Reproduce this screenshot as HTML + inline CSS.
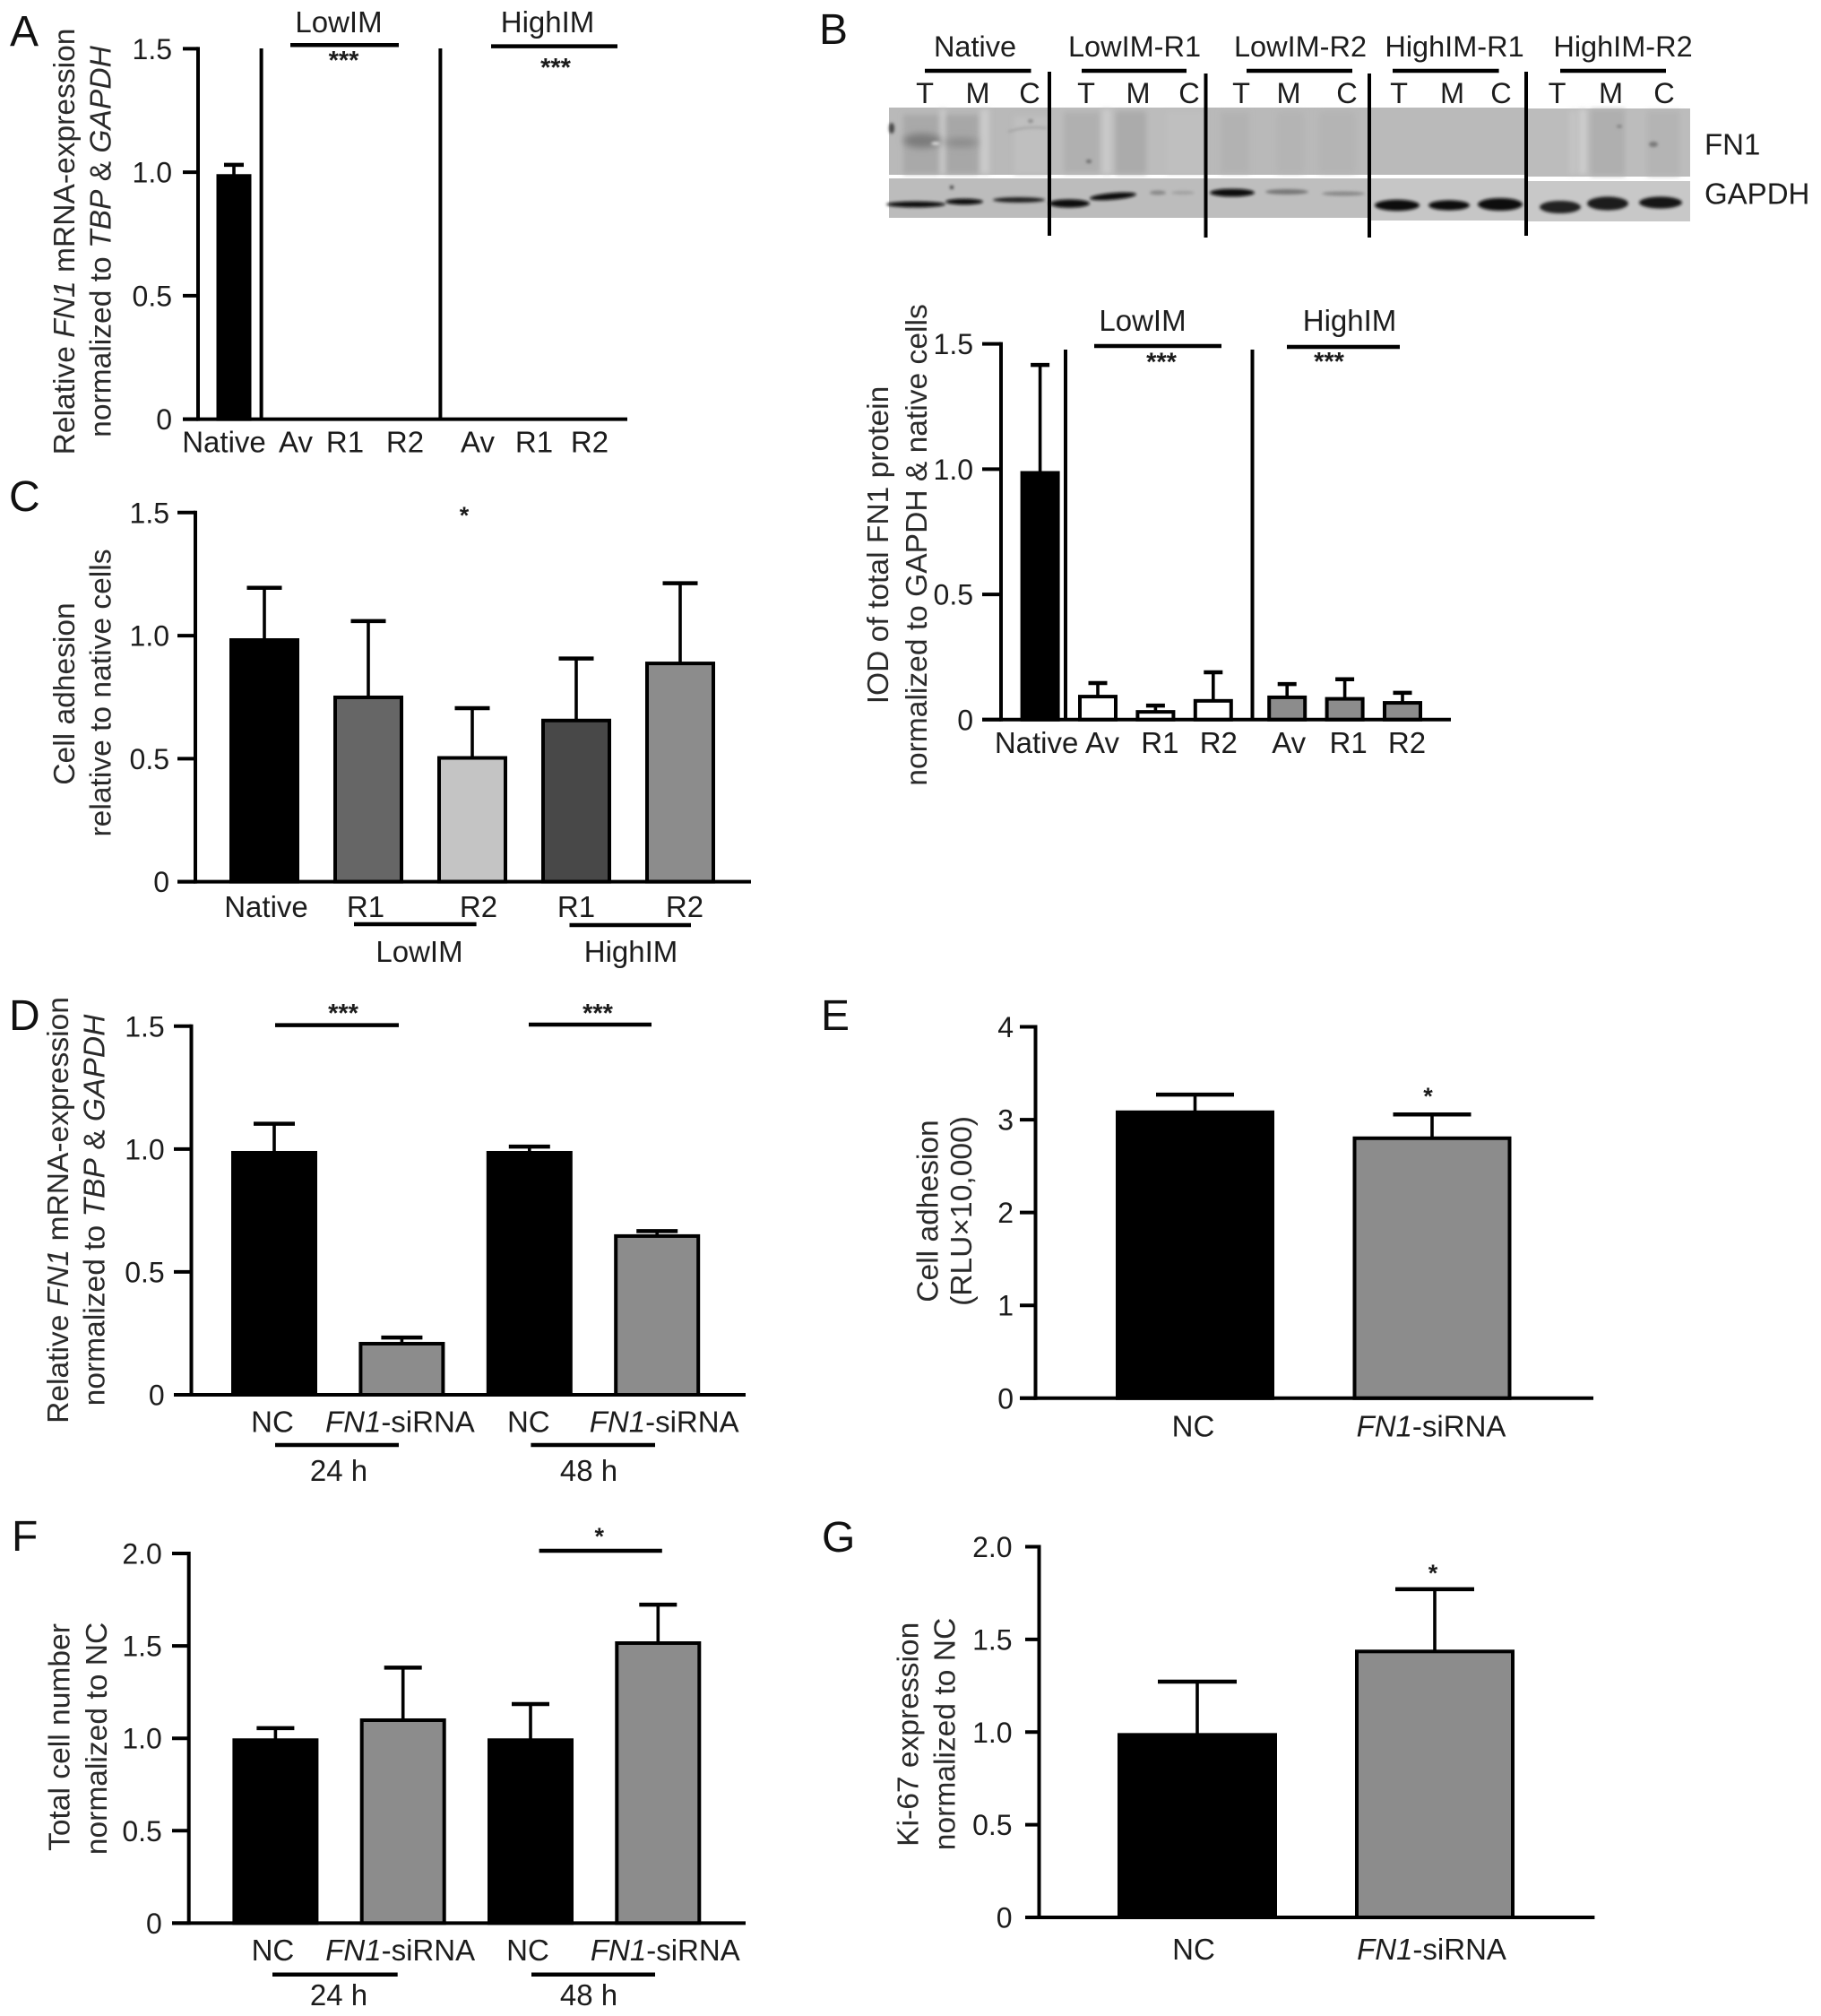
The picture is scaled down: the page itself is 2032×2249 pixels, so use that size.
<!DOCTYPE html>
<html lang="en">
<head>
<meta charset="utf-8">
<title>FN1 expression and cell adhesion panels</title>
<style>
html,body{margin:0;padding:0;background:#fff;}
svg{display:block;font-family:"Liberation Sans",Arial,sans-serif;}
text{fill:#1c1c1c;}
.letter{font-size:48px;fill:#111;}
.title{font-size:33.6px;text-anchor:middle;fill:#2a2a2a;}
.lab{font-size:33px;text-anchor:middle;}
.lab-b{font-size:32.5px;text-anchor:middle;}
.star{font-size:29px;text-anchor:middle;font-weight:bold;}
.star1{font-size:27px;text-anchor:middle;font-weight:bold;}
.line{stroke:#000;stroke-width:4.5;fill:none;}
.div{stroke:#000;stroke-width:4;fill:none;}
i,.it{font-style:italic;}
</style>
</head>
<body>
<svg id="figure" xmlns="http://www.w3.org/2000/svg" width="2032" height="2249" viewBox="0 0 2032 2249">
<defs>
<filter id="b1" x="-30%" y="-150%" width="160%" height="400%"><feGaussianBlur stdDeviation="1.7"/></filter>
<filter id="b2" x="-30%" y="-60%" width="160%" height="220%"><feGaussianBlur stdDeviation="4"/></filter>
<filter id="b3" x="-20%" y="-20%" width="140%" height="140%"><feGaussianBlur stdDeviation="3"/></filter>
</defs>
<rect width="2032" height="2249" fill="#fff"/>

<!-- Panel letters -->
<text class="letter" x="11" y="51">A</text>
<text class="letter" x="914" y="49">B</text>
<text class="letter" x="10" y="570">C</text>
<text class="letter" x="10" y="1149">D</text>
<text class="letter" x="916" y="1149">E</text>
<text class="letter" x="13" y="1730">F</text>
<text class="letter" x="917" y="1731">G</text>

<!-- Western blot image of panel B -->
<g>
  <g>
    <rect x="992" y="120" width="179" height="75" fill="#b9b9b9"/>
    <rect x="1171" y="120" width="175" height="75" fill="#bcbcbc"/>
    <rect x="1346" y="120" width="182" height="75" fill="#b9b9b9"/>
    <rect x="1528" y="120" width="175" height="75" fill="#bababa"/>
    <rect x="1703" y="121" width="183" height="76" fill="#bcbcbc"/>
    <g filter="url(#b3)">
      <rect x="1008" y="128" width="40" height="66" fill="#a9a9a9"/>
      <rect x="1054" y="128" width="38" height="66" fill="#a7a7a7"/>
      <rect x="1049" y="122" width="6" height="72" fill="#c9c9c9"/>
      <rect x="1094" y="122" width="10" height="72" fill="#cacaca"/>
      <rect x="1132" y="130" width="38" height="64" fill="#bfbfbf"/>
      <rect x="1187" y="125" width="40" height="68" fill="#b0b0b0"/>
      <rect x="1230" y="122" width="10" height="72" fill="#c9c9c9"/>
      <rect x="1245" y="124" width="34" height="70" fill="#ababab"/>
      <rect x="1302" y="125" width="42" height="68" fill="#bfbfbf"/>
      <rect x="1362" y="125" width="32" height="68" fill="#b2b2b2"/>
      <rect x="1425" y="125" width="30" height="68" fill="#b4b4b4"/>
      <rect x="1472" y="125" width="40" height="68" fill="#b4b4b4"/>
      <rect x="1752" y="124" width="6" height="70" fill="#c6c6c6"/>
      <rect x="1762" y="122" width="8" height="72" fill="#cdcdcd"/>
      <rect x="1775" y="122" width="38" height="74" fill="#afafaf"/>
      <rect x="1838" y="124" width="36" height="72" fill="#b4b4b4"/>
    </g>
    <g filter="url(#b2)">
      <ellipse cx="1029" cy="157" rx="21" ry="8" fill="#7b7b7b"/>
      <ellipse cx="1073" cy="159" rx="19" ry="5" fill="#8b8b8b"/>
    </g>
    <g filter="url(#b1)">
      <ellipse cx="995" cy="143" rx="3" ry="6" fill="#444"/>
      <ellipse cx="1044" cy="160" rx="5" ry="1.5" fill="#ececec"/>
      <ellipse cx="1150" cy="135" rx="3" ry="2" fill="#888"/>
      <ellipse cx="1215" cy="180" rx="3" ry="2" fill="#666"/>
      <ellipse cx="1845" cy="161" rx="5" ry="3" fill="#777"/>
      <ellipse cx="1807" cy="141" rx="3" ry="1.5" fill="#777"/>
      <path d="M1125 147 Q1145 140 1168 143" stroke="#a0a0a0" stroke-width="2" fill="none"/>
    </g>
  </g>
  <g>
    <rect x="992" y="199" width="179" height="44" fill="#bcbcbc"/>
    <rect x="1171" y="199" width="175" height="44" fill="#bcbcbc"/>
    <rect x="1346" y="199" width="182" height="44" fill="#bebebe"/>
    <rect x="1528" y="199" width="175" height="47" fill="#c6c6c6"/>
    <rect x="1703" y="202" width="183" height="45" fill="#c8c8c8"/>
    <g filter="url(#b1)" fill="#0c0c0c">
      <ellipse cx="1022" cy="228" rx="33" ry="3.4" />
      <ellipse cx="1076" cy="225" rx="21" ry="3.4"/>
      <ellipse cx="1137" cy="223" rx="29" ry="3" fill="#222"/>
      <ellipse cx="1193" cy="227" rx="23" ry="4.6"/>
      <ellipse cx="1242" cy="219" rx="26" ry="3.8" transform="rotate(-5 1242 219)"/>
      <ellipse cx="1292" cy="215" rx="9" ry="2.5" fill="#888"/>
      <ellipse cx="1320" cy="215" rx="13" ry="2" fill="#a0a0a0"/>
      <ellipse cx="1375" cy="215" rx="25" ry="4.4"/>
      <ellipse cx="1436" cy="214" rx="24" ry="3" fill="#777"/>
      <ellipse cx="1499" cy="216" rx="24" ry="2.4" fill="#888"/>
      <ellipse cx="1559" cy="229" rx="25" ry="6.2"/>
      <ellipse cx="1617" cy="229" rx="23" ry="5.6"/>
      <ellipse cx="1674" cy="228" rx="25" ry="7"/>
      <ellipse cx="1741" cy="231" rx="23" ry="7" fill="#222"/>
      <ellipse cx="1794" cy="227" rx="23" ry="7.6" fill="#1a1a1a"/>
      <ellipse cx="1853" cy="226" rx="24" ry="6.6" fill="#161616"/>
      <ellipse cx="1062" cy="209" rx="2" ry="2" fill="#333"/>
    </g>
  </g>
  <line class="div" x1="1171" y1="80" x2="1171" y2="263"/>
  <line class="div" x1="1345.5" y1="82" x2="1345.5" y2="265"/>
  <line class="div" x1="1528" y1="82" x2="1528" y2="265"/>
  <line class="div" x1="1703" y1="80" x2="1703" y2="263"/>
  <g>
    <text class="lab-b" x="1088" y="63">Native</text>
    <text class="lab-b" x="1266" y="63">LowIM-R1</text>
    <text class="lab-b" x="1451" y="63">LowIM-R2</text>
    <text class="lab-b" x="1623" y="63">HighIM-R1</text>
    <text class="lab-b" x="1811" y="63">HighIM-R2</text>
  </g>
  <g>
    <line class="line" x1="1032" y1="79" x2="1150.5" y2="79"/>
    <line class="line" x1="1207" y1="79" x2="1324" y2="79"/>
    <line class="line" x1="1391" y1="79" x2="1509" y2="79"/>
    <line class="line" x1="1554" y1="79" x2="1672.6" y2="79"/>
    <line class="line" x1="1741" y1="79" x2="1859" y2="79"/>
  </g>
  <g>
    <text class="lab-b" x="1032" y="115">T</text><text class="lab-b" x="1091" y="115">M</text><text class="lab-b" x="1149" y="115">C</text>
    <text class="lab-b" x="1212" y="115">T</text><text class="lab-b" x="1270" y="115">M</text><text class="lab-b" x="1327" y="115">C</text>
    <text class="lab-b" x="1385" y="115">T</text><text class="lab-b" x="1438" y="115">M</text><text class="lab-b" x="1503" y="115">C</text>
    <text class="lab-b" x="1561" y="115">T</text><text class="lab-b" x="1620.6" y="115">M</text><text class="lab-b" x="1675" y="115">C</text>
    <text class="lab-b" x="1737.5" y="115">T</text><text class="lab-b" x="1797.5" y="115">M</text><text class="lab-b" x="1857" y="115">C</text>
  </g>
  <text class="lab-b" style="text-anchor:start;font-size:33px" x="1902" y="172.7">FN1</text>
  <text class="lab-b" style="text-anchor:start;font-size:33px" x="1902" y="227.7">GAPDH</text>
</g>

<!-- Chart panels: axes and bars filled in by script; annotations are static -->
<g id="panel-a">
  <g>
    <text class="title" transform="translate(83,269.5) rotate(-90)">Relative <tspan class="it">FN1</tspan> mRNA-expression</text>
    <text class="title" transform="translate(123.4,269.5) rotate(-90)">normalized to <tspan class="it">TBP</tspan> &amp; <tspan class="it">GAPDH</tspan></text>
  </g>
  <line class="div" x1="291.6" y1="54" x2="291.6" y2="467"/>
  <line class="div" x1="491.4" y1="54" x2="491.4" y2="467"/>
  <text class="lab" x="378" y="36">LowIM</text>
  <text class="lab" x="611" y="36">HighIM</text>
  <line class="line" x1="324" y1="50.3" x2="445" y2="50.3"/>
  <line class="line" x1="548" y1="51.6" x2="689" y2="51.6"/>
  <text class="star" x="383.5" y="77">***</text>
  <text class="star" x="620" y="85">***</text>
</g>

<g id="panel-b">
  <g>
    <text class="title" transform="translate(991,608) rotate(-90)">IOD of total FN1 protein</text>
    <text class="title" transform="translate(1034,608) rotate(-90)">normalized to GAPDH &amp; native cells</text>
  </g>
  <line class="div" x1="1189" y1="390" x2="1189" y2="802"/>
  <line class="div" x1="1397.5" y1="390" x2="1397.5" y2="802"/>
  <text class="lab" x="1275" y="369">LowIM</text>
  <text class="lab" x="1506" y="369">HighIM</text>
  <line class="line" x1="1221" y1="386" x2="1363" y2="386"/>
  <line class="line" x1="1436" y1="387" x2="1562" y2="387"/>
  <text class="star" x="1296" y="413.6">***</text>
  <text class="star" x="1483" y="413">***</text>
</g>

<g id="panel-c">
  <g>
    <text class="title" transform="translate(83,774) rotate(-90)">Cell adhesion</text>
    <text class="title" transform="translate(123.4,773) rotate(-90)">relative to native cells</text>
  </g>
  <text class="star1" x="518" y="584">*</text>
  <line class="line" x1="395" y1="1031" x2="531.6" y2="1031"/>
  <line class="line" x1="635.5" y1="1032" x2="771" y2="1032"/>
  <text class="lab" x="468" y="1073">LowIM</text>
  <text class="lab" x="704" y="1073">HighIM</text>
</g>

<g id="panel-d">
  <g>
    <text class="title" transform="translate(75.8,1350) rotate(-90)">Relative <tspan class="it">FN1</tspan> mRNA-expression</text>
    <text class="title" transform="translate(116.5,1350) rotate(-90)">normalized to <tspan class="it">TBP</tspan> &amp; <tspan class="it">GAPDH</tspan></text>
  </g>
  <line class="line" x1="307" y1="1143.6" x2="445" y2="1143.6"/>
  <line class="line" x1="590" y1="1143" x2="727" y2="1143"/>
  <text class="star" x="383" y="1140">***</text>
  <text class="star" x="667" y="1140">***</text>
  <line class="line" x1="307" y1="1612" x2="445" y2="1612"/>
  <line class="line" x1="592.4" y1="1612" x2="731" y2="1612"/>
  <text class="lab" x="378" y="1652">24 h</text>
  <text class="lab" x="657" y="1652">48 h</text>
</g>

<g id="panel-e">
  <g>
    <text class="title" transform="translate(1046.4,1351) rotate(-90)">Cell adhesion</text>
    <text class="title" transform="translate(1084,1351) rotate(-90)">(RLU×10,000)</text>
  </g>
  <text class="star1" x="1593.5" y="1232">*</text>
</g>

<g id="panel-f">
  <g>
    <text class="title" transform="translate(77.5,1938) rotate(-90)">Total cell number</text>
    <text class="title" transform="translate(118.8,1939.5) rotate(-90)">normalized to NC</text>
  </g>
  <line class="line" x1="601.6" y1="1730" x2="738.8" y2="1730"/>
  <text class="star1" x="668.8" y="1723">*</text>
  <line class="line" x1="304" y1="2202.7" x2="443.7" y2="2202.7"/>
  <line class="line" x1="593" y1="2202.7" x2="731" y2="2202.7"/>
  <text class="lab" x="378" y="2236.8">24 h</text>
  <text class="lab" x="657" y="2236.8">48 h</text>
</g>

<g id="panel-g">
  <g>
    <text class="title" transform="translate(1024.6,1934.8) rotate(-90)">Ki-67 expression</text>
    <text class="title" transform="translate(1065.3,1934.5) rotate(-90)">normalized to NC</text>
  </g>
  <text class="star1" x="1599" y="1764">*</text>
</g>
</svg>

<script>
// ---- Chart data ----
const panelACategories = ['Native', 'Av', 'R1', 'R2', 'Av', 'R1', 'R2'];
const panelAValues = [0.985, 0, 0, 0, 0, 0, 0];
const panelAErrorTops = [1.03, 0, 0, 0, 0, 0, 0];
const panelAFills = ['#000', '#fff', '#fff', '#fff', '#8c8c8c', '#8c8c8c', '#8c8c8c'];
const panelATicks = ['0', '0.5', '1.0', '1.5'];

const panelBCategories = ['Native', 'Av', 'R1', 'R2', 'Av', 'R1', 'R2'];
const panelBValues = [0.985, 0.092, 0.031, 0.075, 0.089, 0.083, 0.067];
const panelBErrorTops = [1.416, 0.146, 0.056, 0.189, 0.142, 0.161, 0.107];
const panelBFills = ['#000', '#fff', '#fff', '#fff', '#8c8c8c', '#8c8c8c', '#8c8c8c'];
const panelBTicks = ['0', '0.5', '1.0', '1.5'];

const panelCCategories = ['Native', 'R1', 'R2', 'R1', 'R2'];
const panelCValues = [0.982, 0.749, 0.503, 0.655, 0.887];
const panelCErrorTops = [1.194, 1.059, 0.705, 0.907, 1.213];
const panelCFills = ['#000', '#666', '#c4c4c4', '#484848', '#8c8c8c'];
const panelCTicks = ['0', '0.5', '1.0', '1.5'];

const panelDCategories = ['NC', 'FN1|-siRNA', 'NC', 'FN1|-siRNA'];
const panelDValues = [0.985, 0.208, 0.985, 0.646];
const panelDErrorTops = [1.103, 0.233, 1.01, 0.666];
const panelDFills = ['#000', '#8c8c8c', '#000', '#8c8c8c'];
const panelDTicks = ['0', '0.5', '1.0', '1.5'];

const panelECategories = ['NC', 'FN1|-siRNA'];
const panelEValues = [3.08, 2.80];
const panelEErrorTops = [3.27, 3.056];
const panelEFills = ['#000', '#8c8c8c'];
const panelETicks = ['0', '1', '2', '3', '4'];

const panelFCategories = ['NC', 'FN1|-siRNA', 'NC', 'FN1|-siRNA'];
const panelFValues = [0.99, 1.098, 0.99, 1.515];
const panelFErrorTops = [1.055, 1.382, 1.185, 1.723];
const panelFFills = ['#000', '#8c8c8c', '#000', '#8c8c8c'];
const panelFTicks = ['0', '0.5', '1.0', '1.5', '2.0'];

const panelGCategories = ['NC', 'FN1|-siRNA'];
const panelGValues = [0.985, 1.435];
const panelGErrorTops = [1.272, 1.771];
const panelGFills = ['#000', '#8c8c8c'];
const panelGTicks = ['0', '0.5', '1.0', '1.5', '2.0'];

// ---- Rendering ----
const NS = 'http://www.w3.org/2000/svg';

function make(parent, tag, attrs) {
  const el = document.createElementNS(NS, tag);
  for (const k in attrs) el.setAttribute(k, attrs[k]);
  parent.appendChild(el);
  return el;
}

function drawChart(id, data, layout) {
  const root = document.getElementById(id);
  const maxTick = Number(data.ticks[data.ticks.length - 1]);
  const yScale = v => layout.y0 - (v / maxTick) * (layout.y0 - layout.yTop);
  const xScale = i => layout.x0 + i * layout.step + (layout.gapAfter !== undefined && i >= layout.gapAfter ? layout.gap : 0);

  // bars first so the axes sit on top
  data.values.forEach((v, i) => {
    if (v <= 0) return;
    const cx = xScale(i);
    const top = yScale(v);
    const capY = yScale(data.errors[i]);

    const stem = make(root, 'line', {x1: cx, x2: cx, y1: top, y2: capY, stroke: '#000', 'stroke-width': layout.err});
    
    

    const cap = make(root, 'line', {x1: cx - layout.capW / 2, x2: cx + layout.capW / 2, y1: capY, y2: capY, stroke: '#000', 'stroke-width': layout.capS});
    
    

    // stroke is centred on the bar path, as in the source plot
    const bar = make(root, 'rect', {
      x: cx - layout.barW / 2, y: top,
      width: layout.barW, height: Math.max(layout.y0 - top, 0),
      fill: data.fills[i], stroke: '#000', 'stroke-width': 4
    });
    
    
  });

  // y axis
  const yAxis = make(root, 'line', {x1: layout.axisX, x2: layout.axisX, y1: yScale(maxTick) - 2, y2: layout.y0 + 2, stroke: '#000', 'stroke-width': 4});
  
  

  // x axis
  const xAxis = make(root, 'line', {x1: layout.axisL, x2: layout.axisR, y1: layout.y0, y2: layout.y0, stroke: '#000', 'stroke-width': 4});
  
  

  // y ticks and their labels
  data.ticks.forEach(label => {
    const y = yScale(Number(label));
    const tick = make(root, 'line', {x1: layout.axisL, x2: layout.axisX, y1: y, y2: y, stroke: '#000', 'stroke-width': 4});
    
    

    const txt = make(root, 'text', {x: layout.tickX, y: y + 11.5, 'text-anchor': 'end', 'font-size': 32});
    
    
    txt.textContent = label;
  });

  // category labels ('|' separates an italic gene prefix from the rest)
  data.categories.forEach((label, i) => {
    const txt = make(root, 'text', {x: xScale(i) + layout.nudge[i], y: layout.labelY, 'text-anchor': 'middle', 'font-size': 33});
    
    
    const parts = label.split('|');
    if (parts.length === 2) {
      const a = make(txt, 'tspan', {'font-style': 'italic'});
      a.textContent = parts[0];
      const b = make(txt, 'tspan', {});
      b.textContent = parts[1];
    } else {
      txt.textContent = label;
    }
  });
}

drawChart('panel-a',
  {categories: panelACategories, values: panelAValues, errors: panelAErrorTops, fills: panelAFills, ticks: panelATicks},
  {y0: 467.6, yTop: 54.4, axisX: 221, axisL: 204, axisR: 700, tickX: 192, x0: 261, step: 65, gapAfter: 4, gap: 15,
   barW: 35, capW: 22, err: 3.6, capS: 4.5, labelY: 504.5, nudge: [-11, 4, -6, -4, -3, -5, -8]});

drawChart('panel-b',
  {categories: panelBCategories, values: panelBValues, errors: panelBErrorTops, fills: panelBFills, ticks: panelBTicks},
  {y0: 802.8, yTop: 383.6, axisX: 1117, axisL: 1096, axisR: 1619, tickX: 1086, x0: 1160.6, step: 64.4, gapAfter: 4, gap: 18,
   barW: 40, capW: 21, err: 3.6, capS: 4.5, labelY: 840, nudge: [-4, 5, 5, 6, 2, 4, 5]});

drawChart('panel-c',
  {categories: panelCCategories, values: panelCValues, errors: panelCErrorTops, fills: panelCFills, ticks: panelCTicks},
  {y0: 983.6, yTop: 571.8, axisX: 218, axisL: 198, axisR: 838, tickX: 189, x0: 295, step: 116,
   barW: 74, capW: 39, err: 3.6, capS: 4.5, labelY: 1023, nudge: [2, -3, 7, 0, 5]});

drawChart('panel-d',
  {categories: panelDCategories, values: panelDValues, errors: panelDErrorTops, fills: panelDFills, ticks: panelDTicks},
  {y0: 1556, yTop: 1144.8, axisX: 213.5, axisL: 194, axisR: 832, tickX: 183.7, x0: 306, step: 142.4,
   barW: 92, capW: 46, err: 3.6, capS: 4.5, labelY: 1597.6, nudge: [-2, -2, -1, 8]});

drawChart('panel-e',
  {categories: panelECategories, values: panelEValues, errors: panelEErrorTops, fills: panelEFills, ticks: panelETicks},
  {y0: 1559.8, yTop: 1145.5, axisX: 1155.5, axisL: 1138, axisR: 1778, tickX: 1131, x0: 1333.5, step: 264.5,
   barW: 173, capW: 87, err: 3.6, capS: 4.5, labelY: 1602.4, nudge: [-2, -1]});

drawChart('panel-f',
  {categories: panelFCategories, values: panelFValues, errors: panelFErrorTops, fills: panelFFills, ticks: panelFTicks},
  {y0: 2145.4, yTop: 1733, axisX: 210.7, axisL: 192, axisR: 832, tickX: 180.8, x0: 307.4, step: 142.3,
   barW: 92, capW: 42, err: 3.6, capS: 4.5, labelY: 2186.8, nudge: [-3, -3, -3, 8]});

drawChart('panel-g',
  {categories: panelGCategories, values: panelGValues, errors: panelGErrorTops, fills: panelGFills, ticks: panelGTicks},
  {y0: 2139, yTop: 1725.5, axisX: 1159.5, axisL: 1144, axisR: 1779.4, tickX: 1129.6, x0: 1336, step: 265,
   barW: 174, capW: 88, err: 3.6, capS: 4.5, labelY: 2186, nudge: [-4, -3.5]});
</script>
</body>
</html>
